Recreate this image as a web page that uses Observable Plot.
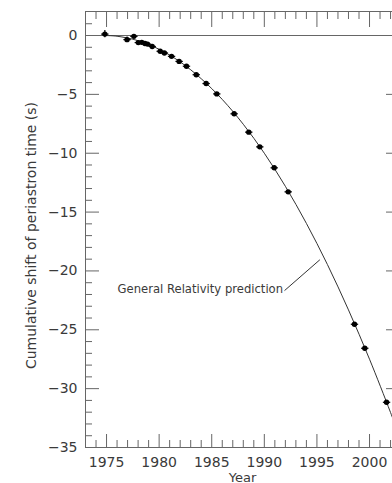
<!DOCTYPE html>
<html><head><meta charset="utf-8">
<script src="https://cdn.jsdelivr.net/npm/d3@7"></script>
<script src="https://cdn.jsdelivr.net/npm/@observablehq/plot@0.6"></script>
<style>
html,body{margin:0;padding:0;background:#fff;overflow:hidden;}
#chart{width:392px;height:483px;overflow:hidden;}
#chart svg{max-width:none;display:block;}
</style></head><body><div id="chart"></div>
<script>
// Observed cumulative shift of periastron time (s)
const obsYears = [1974.84, 1976.95, 1977.6, 1978.02, 1978.35, 1978.65, 1978.9, 1979.34, 1980.1, 1980.5, 1981.18, 1981.9, 1982.6, 1983.53, 1984.47, 1985.48, 1987.13, 1988.52, 1989.57, 1990.94, 1992.27, 1998.57, 1999.55, 2001.62];
const obsShift = [0.12, -0.35, -0.07, -0.6, -0.58, -0.68, -0.73, -0.93, -1.34, -1.48, -1.77, -2.2, -2.61, -3.33, -4.08, -4.96, -6.65, -8.21, -9.46, -11.24, -13.28, -24.53, -26.57, -31.16];
const obsErr = [0.3, 0.22, 0.15, 0.1, 0.1, 0.08, 0.08, 0.08, 0.06, 0.06, 0.05, 0.05, 0.05, 0.05, 0.05, 0.05, 0.05, 0.05, 0.05, 0.05, 0.05, 0.05, 0.05, 0.05];

// General Relativity prediction curve
const curveYears = [1974.8, 1976, 1978, 1980, 1982, 1984, 1986, 1988, 1990, 1992, 1994, 1996, 1998, 2000, 2002, 2003];
const curveShift = [0, -0.06, -0.44, -1.17, -2.24, -3.67, -5.43, -7.54, -10.0, -12.81, -15.96, -19.46, -23.31, -27.5, -32.03, -34.43];

const yearTicks = [1975, 1980, 1985, 1990, 1995, 2000];
const yearMinor = d3.range(1974, 2003).filter(y => y % 5 !== 0);
const shiftTicks = [0, -5, -10, -15, -20, -25, -30, -35];
const shiftMinor = d3.range(-34, 2).filter(v => v % 5 !== 0);

const annotationText = ["General Relativity prediction"];
const annotationAt = [{year: 1976.05, shift: -21.6}];
const leader = [{year1: 1991.92, shift1: -21.67, year2: 1995.28, shift2: -19.05}];

const xLabel = ["Year"];
const yLabel = ["Cumulative shift of periastron time (s)"];

const obs = obsYears.map((y, i) => ({year: y, shift: obsShift[i], err: obsErr[i]}));
const curve = curveYears.map((y, i) => ({year: y, shift: curveShift[i]}));

const fmtY = d => d < 0 ? "\u2212" + Math.abs(d) : String(d);
const axisColor = "#666";
const textColor = "#3a3a3a";

const plot = Plot.plot({
  width: 400,
  height: 483,
  marginLeft: 85,
  marginRight: 1,
  marginTop: 11,
  marginBottom: 36,
  x: {domain: [1973, 2002.85], label: null},
  y: {domain: [-35, 2.04], label: null},
  style: {fontFamily: "'DejaVu Sans', sans-serif", fontSize: "14px", color: textColor, background: "#fff"},
  marks: [
    Plot.ruleY([0], {stroke: axisColor, strokeWidth: 1}),
    // bottom ticks
    Plot.axisX(yearTicks, {anchor: "bottom", tickSize: -13, tickFormat: () => "", stroke: axisColor, label: null}),
    Plot.axisX(yearMinor, {anchor: "bottom", tickSize: -7, tickFormat: () => "", stroke: axisColor, label: null}),
    Plot.axisX(yearTicks, {anchor: "bottom", tickSize: 0, tickPadding: 10, tickFormat: d => String(d), fontSize: 14, label: null}),
    // top ticks
    Plot.axisX(yearTicks, {anchor: "top", tickSize: -15, tickFormat: () => "", stroke: axisColor, label: null}),
    Plot.axisX(yearMinor, {anchor: "top", tickSize: -7, tickFormat: () => "", stroke: axisColor, label: null}),
    // left ticks
    Plot.axisY(shiftTicks, {anchor: "left", tickSize: -14, tickFormat: () => "", stroke: axisColor, label: null}),
    Plot.axisY(shiftMinor, {anchor: "left", tickSize: -7, tickFormat: () => "", stroke: axisColor, label: null}),
    Plot.axisY(shiftTicks, {anchor: "left", tickSize: 0, tickPadding: 8, tickFormat: fmtY, fontSize: 14, label: null}),
    // right ticks
    Plot.axisY(shiftTicks, {anchor: "right", tickSize: -14, tickFormat: () => "", stroke: axisColor, label: null}),
    Plot.axisY(shiftMinor, {anchor: "right", tickSize: -7, tickFormat: () => "", stroke: axisColor, label: null}),
    Plot.frame({stroke: axisColor, strokeWidth: 1}),
    // prediction curve
    Plot.line(curve, {x: "year", y: "shift", stroke: "#333", strokeWidth: 1, curve: "catmull-rom", clip: true}),
    // observations
    Plot.ruleX(obs, {x: "year", y1: d => d.shift - d.err, y2: d => d.shift + d.err, stroke: "#000", strokeWidth: 1.2}),
    Plot.link(obs, {x1: d => d.year - 0.35, x2: d => d.year + 0.35, y1: "shift", y2: "shift", stroke: "#000", strokeWidth: 1.2}),
    Plot.dot(obs, {x: "year", y: "shift", r: 2.7, fill: "#000", stroke: null}),
    // annotation
    Plot.text(annotationAt, {x: "year", y: "shift", text: (d, i) => annotationText[i], textAnchor: "start", fontSize: 11.6, fill: textColor}),
    Plot.link(leader, {x1: "year1", y1: "shift1", x2: "year2", y2: "shift2", stroke: "#333", strokeWidth: 1}),
    // axis titles
    Plot.text(xLabel, {frameAnchor: "bottom", dy: 34, text: d => d, fontSize: 13, fill: textColor, textAnchor: "middle"}),
    Plot.text(yLabel, {frameAnchor: "left", dx: -54, dy: 6, rotate: -90, text: d => d, fontSize: 14, fill: textColor, textAnchor: "middle"})
  ]
});
document.getElementById("chart").appendChild(plot);
</script>
</body></html>
